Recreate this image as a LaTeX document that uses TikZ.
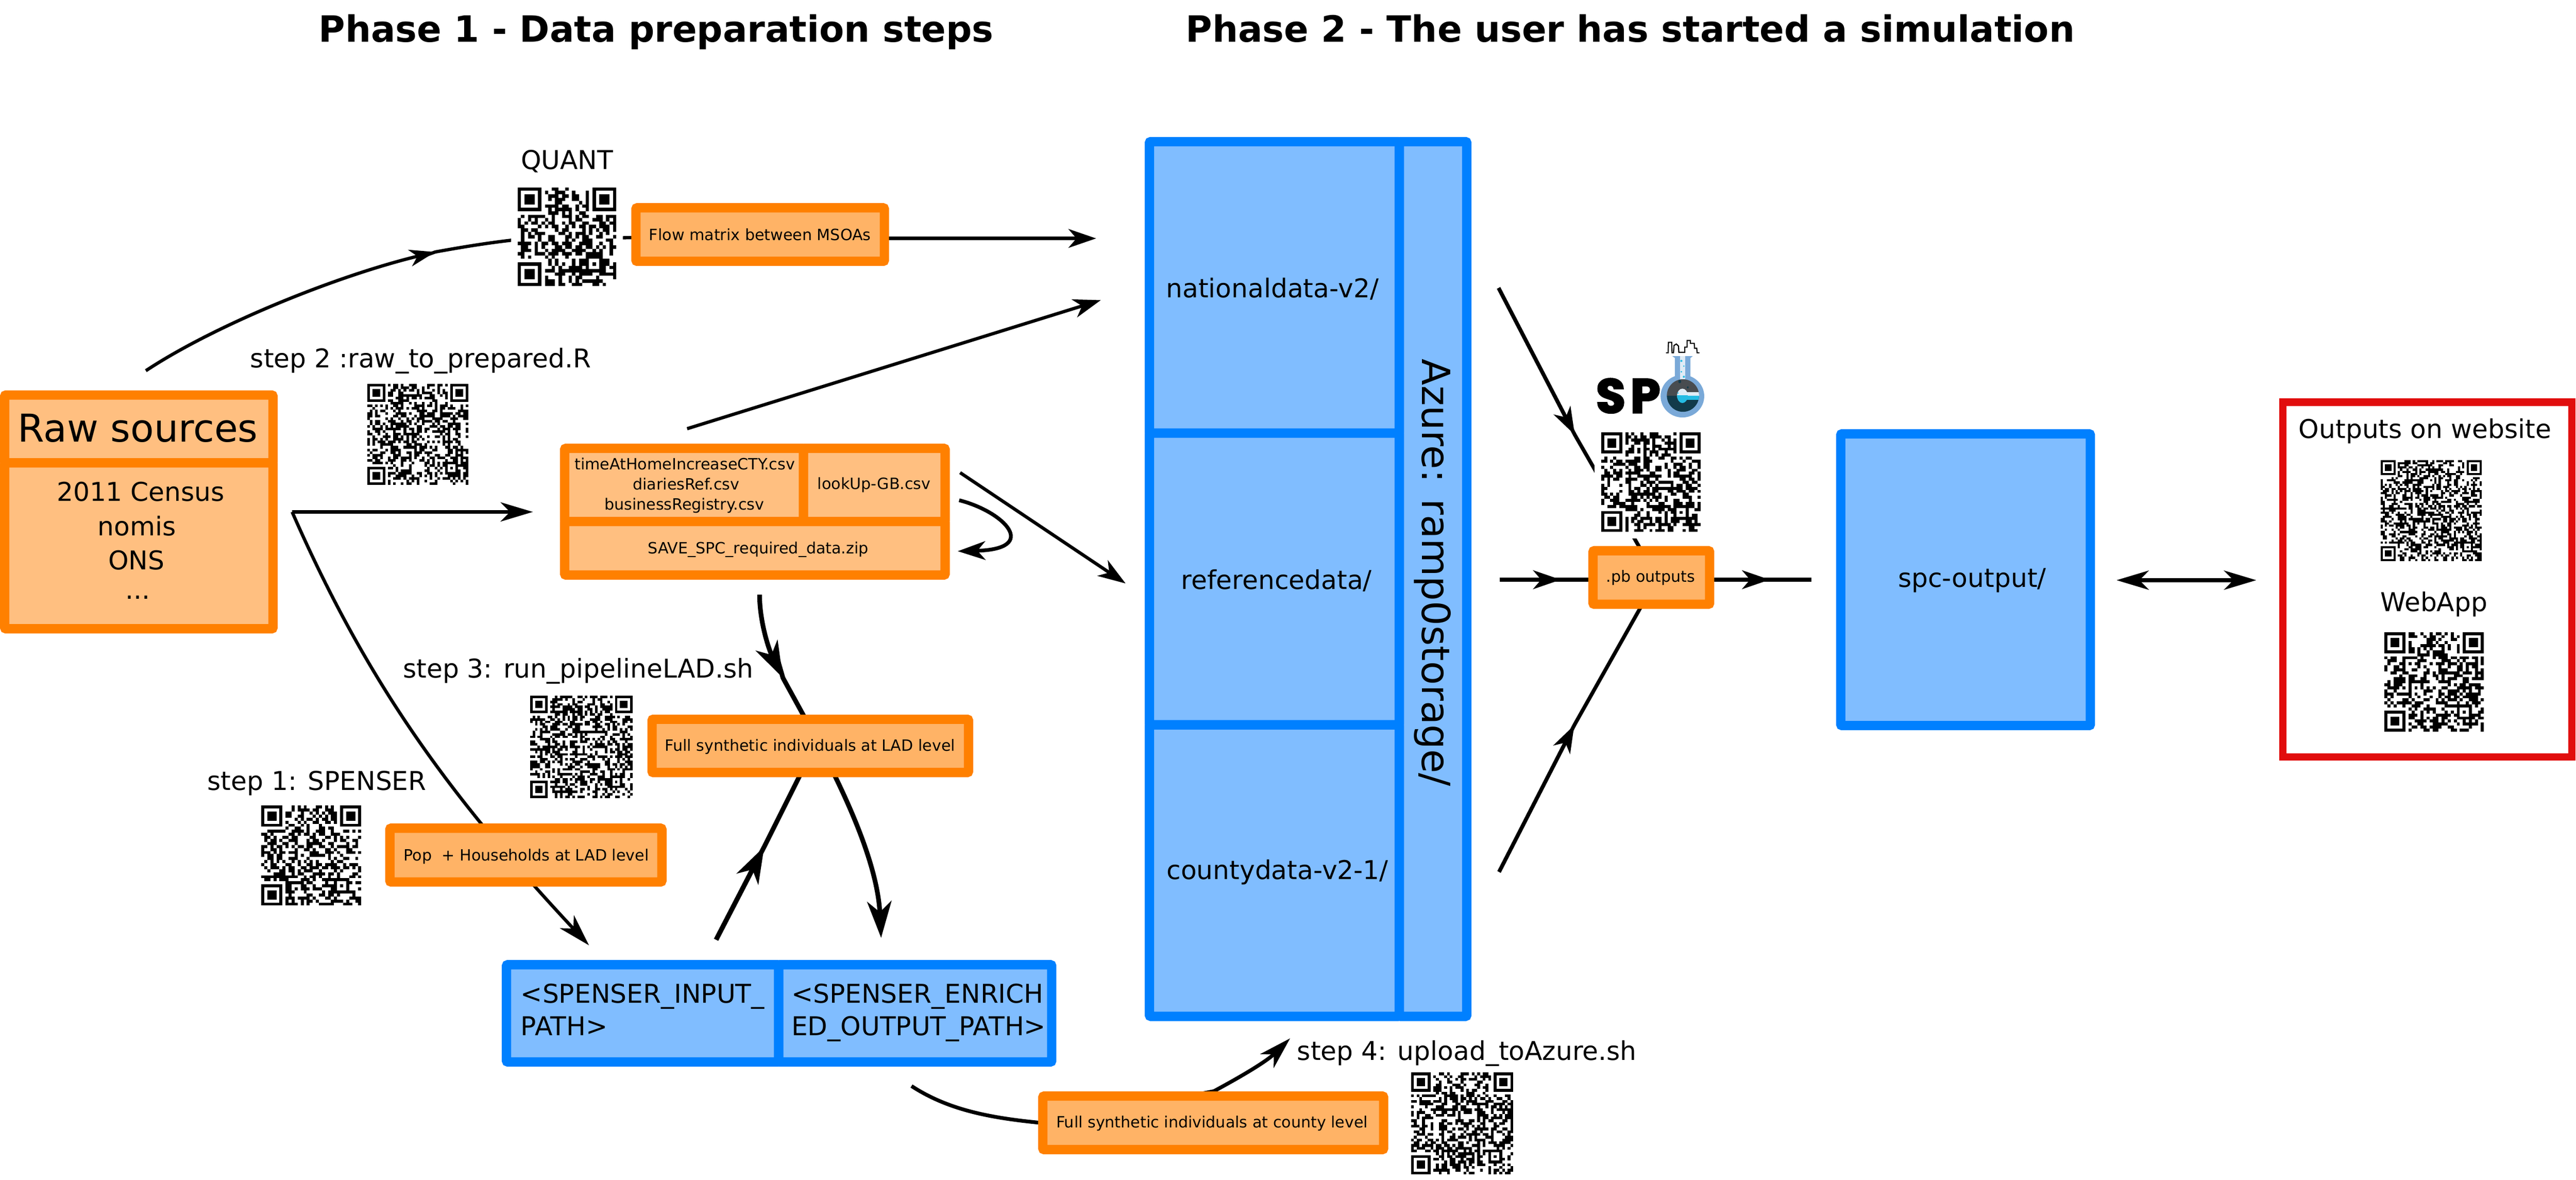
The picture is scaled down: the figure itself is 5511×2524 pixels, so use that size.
\documentclass[tikz,border=0pt]{standalone}
\usepackage{fontspec}
\setmainfont[Ligatures=NoCommon]{DejaVu Sans}
\newfontfamily\spfont[BoldFeatures={FakeBold=3}]{Poppins}
\usetikzlibrary{arrows.meta}
\definecolor{orb}{HTML}{FF8000}
\definecolor{orf}{HTML}{FFB366}
\definecolor{orl}{HTML}{FFBF80}
\definecolor{blb}{HTML}{0080FF}
\definecolor{blf}{HTML}{80BDFF}
\definecolor{redb}{HTML}{E10D0D}
\definecolor{flask}{HTML}{7AA9D8}
\definecolor{flgrey}{HTML}{484C50}
\definecolor{flteal}{HTML}{123A4A}
\definecolor{flcy}{HTML}{25BCE4}
\definecolor{flpale}{HTML}{E0ECF6}
\tikzset{
  cellbox/.style={rectangle,inner sep=0pt,outer sep=0pt,line width=20pt,rounded corners=3pt},
  obox/.style={cellbox,draw=orb,fill=orf},
  oraw/.style={cellbox,draw=orb,fill=orl},
  bbox/.style={cellbox,draw=blb,fill=blf},
  rbox/.style={rectangle,inner sep=0pt,outer sep=0pt,line width=16pt,draw=redb,fill=white},
  qrbg/.style={rectangle,inner sep=0pt,outer sep=0pt,fill=white},
  lab/.style={anchor=base,inner sep=0pt,font=\fontsize{55.4pt}{60pt}\selectfont},
  labl/.style={lab,anchor=base west},
  small/.style={anchor=base,inner sep=0pt,font=\fontsize{33.2pt}{38pt}\selectfont},
  big/.style={anchor=base,inner sep=0pt,font=\fontsize{82pt}{90pt}\selectfont},
  ttl/.style={anchor=base,inner sep=0pt,font=\bfseries\fontsize{77.5pt}{84pt}\selectfont},
  conn/.style={draw=black,line width=8pt},
  connT/.style={draw=black,line width=7pt},
  connH/.style={draw=black,line width=10pt},
  hd/.tip={Stealth[length=59pt,width=40pt,inset=17pt]},
  hdM/.tip={Stealth[length=69pt,width=41pt,inset=20pt]},
  hdL/.tip={Stealth[length=78pt,width=52pt,inset=23pt]},
  hdT/.tip={Stealth[length=55pt,width=36pt,inset=16pt]},
}
\newcommand\bx[7]{%
  \pgfmathsetmacro\bxc{(#3+#5)/2}\pgfmathsetmacro\byc{(#4+#6)/2}%
  \pgfmathsetmacro\bxw{abs(#5-#3)}\pgfmathsetmacro\byh{abs(#6-#4)}%
  \node[#1,minimum width=\bxw pt,minimum height=\byh pt] (#2) at (\bxc,\byc) {#7};}
\newcommand\qrfinder[2]{%
  \fill[black] (#1,#2) rectangle ++(7,7);
  \fill[white] (#1+1,#2+1) rectangle ++(5,5);
  \fill[black] (#1+2,#2+2) rectangle ++(3,3);}
% pseudo QR: name, x0, y0, size, modules, seed
\newcommand\qrc[6]{%
  \pgfmathsetmacro\qm{#4/#5}%
  \pgfmathsetmacro\qcx{#2+#4/2}\pgfmathsetmacro\qcy{#3+#4/2}%
  \pgfmathsetmacro\qbg{#4+28}%
  \node[qrbg,minimum width=\qbg pt,minimum height=\qbg pt] (#1) at (\qcx,\qcy) {};
  \pgfmathsetseed{#6}%
  \begin{scope}[shift={(#2,#3)},x=\qm pt,y=-\qm pt]
    \qrfinder{0}{0}
    \pgfmathtruncatemacro\qn{#5-7}\qrfinder{\qn}{0}\qrfinder{0}{\qn}
    \pgfmathtruncatemacro\qa{#5-9}%
    \pgfmathtruncatemacro\qb{#5-9}%
    \pgfmathtruncatemacro\qc{#5-10}%
    \pgfmathtruncatemacro\qd{#5-4}%
    \fill[black] (\qa,\qa) rectangle ++(5,5);
    \fill[white] (\qa+1,\qa+1) rectangle ++(3,3);
    \fill[black] (\qa+2,\qa+2) rectangle ++(1,1);
    \pgfmathtruncatemacro\qlast{#5-1}%
    \foreach \i in {0,...,\qlast}{\foreach \j in {0,...,\qlast}{%
      \pgfmathrandominteger{\qr}{0}{1}%
      \def\qskip{0}%
      \ifnum\i<8 \ifnum\j<8 \def\qskip{1}\fi\fi
      \ifnum\i>\qb \ifnum\j<8 \def\qskip{1}\fi\fi
      \ifnum\i<8 \ifnum\j>\qb \def\qskip{1}\fi\fi
      \ifnum\i>\qc \ifnum\i<\qd \ifnum\j>\qc \ifnum\j<\qd \def\qskip{1}\fi\fi\fi\fi
      \ifnum\qr=1 \ifnum\qskip=0
        \fill[black] (\i,\j) rectangle ++(1,1);
      \fi\fi}}
  \end{scope}}
\begin{document}
\begin{tikzpicture}[x=1pt,y=-1pt]
\useasboundingbox (0,0) rectangle (5511,2524);
% free connector ends
\coordinate (rawTop) at (312,793);
\coordinate (quantBack) at (895,552);
\coordinate (quantTip) at (931,539);
\coordinate (quantEnd) at (1093,514);
\coordinate (flowIn) at (1360,508);
\coordinate (flowOut) at (1895,510);
\coordinate (azTop) at (2345,510);
\coordinate (dataUp) at (1470,917);
\coordinate (azMid) at (2355,642);
\coordinate (rawOut) at (625,1095);
\coordinate (dataIn) at (1140,1095);
\coordinate (spIn) at (1260,2022);
\coordinate (selfA) at (2052,1070);
\coordinate (selfB) at (2049,1179);
\coordinate (dataR) at (2054,1011);
\coordinate (azRef) at (2408,1248);
\coordinate (dataDn) at (1625,1272);
\coordinate (midBack) at (1664,1412);
\coordinate (midTip) at (1675,1450);
\coordinate (spEn) at (1885,2006);
\coordinate (spOut) at (1532,2010);
\coordinate (upTip) at (1635,1811);
\coordinate (ladIn) at (1712,1657);
\coordinate (cntA) at (1950,2323);
\coordinate (cntB) at (2240,2403);
\coordinate (cntC) at (2597,2334);
\coordinate (cntD) at (2760,2221);
\coordinate (azR1) at (3206,616);
\coordinate (pbT) at (3369,930);
\coordinate (pbT2) at (3530,1210);
\coordinate (azR2) at (3208,1240);
\coordinate (pbM) at (3339,1240);
\coordinate (pbM2) at (3500,1240);
\coordinate (pbOut) at (3660,1240);
\coordinate (pbO) at (3786,1240);
\coordinate (pbO2) at (3875,1240);
\coordinate (azR3) at (3207,1865);
\coordinate (pbB) at (3368,1551);
\coordinate (pbB2) at (3515,1290);
\coordinate (dblL) at (4528,1241);
\coordinate (dblR) at (4827,1241);
% connectors
\draw[connT,-hdT] (rawTop) .. controls (460,695) and (720,590) .. (quantTip);
\draw[connT] (quantBack) -- (quantTip) .. controls (980,530) and (1040,520) .. (quantEnd) -- (flowIn);
\draw[conn,-hd] (flowOut) -- (azTop);
\draw[connT,-hd] (dataUp) -- (azMid);
\draw[conn,-hdM] (rawOut) -- (dataIn);
\draw[connT,-hdM] (rawOut) .. controls (785,1460) and (960,1701) .. (spIn);
\draw[conn,-hd] (selfA) .. controls (2150,1095) and (2225,1175) .. (selfB);
\draw[connT,-hd] (dataR) -- (azRef);
\draw[connH,-hdL] (dataDn) .. controls (1625,1330) and (1645,1390) .. (midTip);
\draw[connH,-hdL] (midBack) -- (midTip) .. controls (1740,1570) and (1875,1800) .. (spEn);
\draw[connH,-hdL] (spOut) -- (upTip);
\draw[connH] (spOut) -- (upTip) -- (ladIn);
\draw[conn,-hdM] (cntA) .. controls (2030,2375) and (2120,2392) .. (cntB) -- (cntC) .. controls (2660,2300) and (2710,2270) .. (cntD);
\draw[conn,-hd] (azR1) -- (pbT);
\draw[conn] (azR1) -- (pbT) -- (pbT2);
\draw[conn,-hd] (azR2) -- (pbM);
\draw[conn] (azR2) -- (pbM2);
\draw[conn,-hd] (pbOut) -- (pbO);
\draw[conn] (pbOut) -- (pbO2);
\draw[conn,-hd] (azR3) -- (pbB);
\draw[conn] (azR3) -- (pbB) -- (pbB2);
\draw[conn,hdM-hdM] (dblL) -- (dblR);
% boxes
\bx{oraw}{rawT}{10}{845}{584}{990}{}
\bx{oraw}{rawB}{10}{990}{584}{1345}{}
\bx{obox}{flow}{1360.5}{444.5}{1892}{559}{}
\bx{oraw}{dataA}{1208}{959}{1719}{1115.5}{}
\bx{oraw}{dataB}{1719}{959}{2022}{1115.5}{}
\bx{oraw}{dataC}{1208}{1115.5}{2022}{1230}{}
\bx{obox}{lad}{1395}{1538.5}{2072}{1652.5}{}
\bx{obox}{pop}{834}{1771.5}{1416}{1886.5}{}
\bx{obox}{county}{2231}{2344.5}{2960}{2459}{}
\bx{obox}{pb}{3408}{1178}{3657.5}{1292.5}{}
\bx{bbox}{spL}{1083.5}{2063.5}{1666}{2271.5}{}
\bx{bbox}{spR}{1666}{2063.5}{2250}{2271.5}{}
\bx{bbox}{azS}{2993.5}{303}{3138}{2174}{}
\bx{bbox}{azN}{2459}{303}{2993.5}{926.5}{}
\bx{bbox}{azF}{2459}{926.5}{2993.5}{1550.5}{}
\bx{bbox}{azC}{2459}{1550.5}{2993.5}{2174}{}
\bx{bbox}{spc}{3938}{928}{4472}{1552}{}
\bx{rbox}{web}{4884}{860}{5502}{1619}{}
% QR codes
\qrc{qrQuant}{1107.5}{401}{211}{29}{11}
\qrc{qrStep2}{786}{821}{216}{39}{22}
\qrc{qrStep3}{1134}{1488}{219}{41}{33}
\qrc{qrStep1}{559}{1723}{214}{33}{44}
\qrc{qrStep4}{3019}{2294}{218}{37}{55}
\qrc{qrSpc}{3425.5}{925}{213}{33}{66}
\qrc{qrWeb}{5093}{984}{216}{47}{77}
\qrc{qrApp}{5101}{1352}{213}{33}{88}
% texts
\node[ttl] (t1) at (1404,90) {Phase 1 - Data preparation steps};
\node[ttl] (t2) at (3488,90) {Phase 2 - The user has started a simulation};
\node[big] (tRaw) at (295,945) {Raw sources};
\node[lab] (tR1) at (301,1072) {2011 Census};
\node[lab] (tR2) at (293,1146) {nomis};
\node[lab] (tR3) at (292,1218) {ONS};
\node[lab] (tR4) at (295,1281) {...};
\node[lab] (tQ) at (1213,362) {QUANT};
\node[lab] (tS2) at (900,786) {step 2 :raw\_to\_prepared.R};
\node[lab] (tS3) at (1237,1450) {step 3: run\_pipelineLAD.sh};
\node[lab] (tS1) at (678,1690) {step 1: SPENSER};
\node[labl] (tS4) at (2775,2268) {step 4: upload\_toAzure.sh};
\node[small] (tF) at (1626,514) {Flow matrix between MSOAs};
\node[small] (tD1) at (1465,1005) {timeAtHomeIncreaseCTY.csv};
\node[small] (tD2) at (1468,1048) {diariesRef.csv};
\node[small] (tD3) at (1464,1091) {businessRegistry.csv};
\node[small] (tD4) at (1870,1047) {lookUp-GB.csv};
\node[small] (tD5) at (1622,1184) {SAVE\_SPC\_required\_data.zip};
\node[small] (tL) at (1733,1606) {Full synthetic individuals at LAD level};
\node[small] (tP) at (1126,1841) {Pop\ \ + Households at LAD level};
\node[small] (tC) at (2593,2412) {Full synthetic individuals at county level};
\node[small] (tPb) at (3531.5,1245) {.pb outputs};
\node[labl] (tI1) at (1114,2145) {<SPENSER\_INPUT\_};
\node[labl] (tI2) at (1114,2215) {PATH>};
\node[labl] (tE1) at (1693,2145) {<SPENSER\_ENRICH};
\node[labl] (tE2) at (1693,2215) {ED\_OUTPUT\_PATH>};
\node[lab] (tNat) at (2722,636) {nationaldata-v2/};
\node[lab] (tRef) at (2731,1260) {referencedata/};
\node[lab] (tCnt) at (2733,1881) {countydata-v2-1/};
\node[anchor=base,inner sep=0pt,rotate=-90,font=\fontsize{83pt}{90pt}\selectfont] (tAz) at (3043,1225) {Azure: ramp0storage/};
\node[lab] (tOut) at (4219,1256) {spc-output/};
\node[lab] (tWeb) at (5188,937) {Outputs on website};
\node[lab] (tApp) at (5207,1308) {WebApp};
% SPC logo
\node[anchor=base,inner sep=0pt,font=\spfont\bfseries\fontsize{103pt}{110pt}\selectfont] (logoS) at (3446,883) {S};
\node[anchor=base,inner sep=0pt,font=\spfont\bfseries\fontsize{103pt}{110pt}\selectfont] (logoP) at (3520,883) {P};
\begin{scope}[shift={(3300,680)},x=0.3827pt,y=-0.4464pt]
  \fill[flask] (725,183) -- (840,183) -- (827,192) -- (827,290) -- (740,290) -- (740,192) -- cycle;
  \fill[flask] (782,375) ellipse [x radius=122,y radius=102];
  \fill[flpale] (768,183) rectangle (798,295);
  \begin{scope}
    \clip (785,372) ellipse [x radius=90,y radius=78];
    \fill[flgrey] (690,290) rectangle (880,372);
    \fill[flteal] (690,372) rectangle (880,455);
    \fill[flpale] (782,372) ellipse [x radius=30,y radius=33];
    \fill[flpale] (782,355) rectangle (880,372);
    \begin{scope}
      \clip (690,372) rectangle (880,455);
      \fill[flcy] (782,372) ellipse [x radius=30,y radius=36];
    \end{scope}
    \fill[flcy] (782,372) rectangle (880,392);
    \fill[flteal] (767,305) ellipse [x radius=8,y radius=8];
    \fill[flteal] (812,333) ellipse [x radius=5,y radius=5];
    \fill[flcy] (757,360) ellipse [x radius=4,y radius=4];
  \end{scope}
  \fill[flcy] (776,206) ellipse [x radius=6,y radius=5];
  \fill[flcy] (790,231) ellipse [x radius=4,y radius=4];
  \fill[flcy] (776,258) ellipse [x radius=5,y radius=4];
  \fill[flcy] (790,282) ellipse [x radius=6,y radius=5];
  \draw[black,line width=2.4pt] (690,167) -- (702,167) -- (704,117) -- (722,117) -- (724,167) -- (732,167) -- (735,132) -- (748,125) -- (760,135) -- (762,165) -- (795,165) -- (795,140) -- (808,140) -- (808,108) -- (826,108) -- (826,122) -- (848,122) -- (850,145) -- (862,145) -- (864,167) -- (877,167);
\end{scope}
\end{tikzpicture}
\end{document}
